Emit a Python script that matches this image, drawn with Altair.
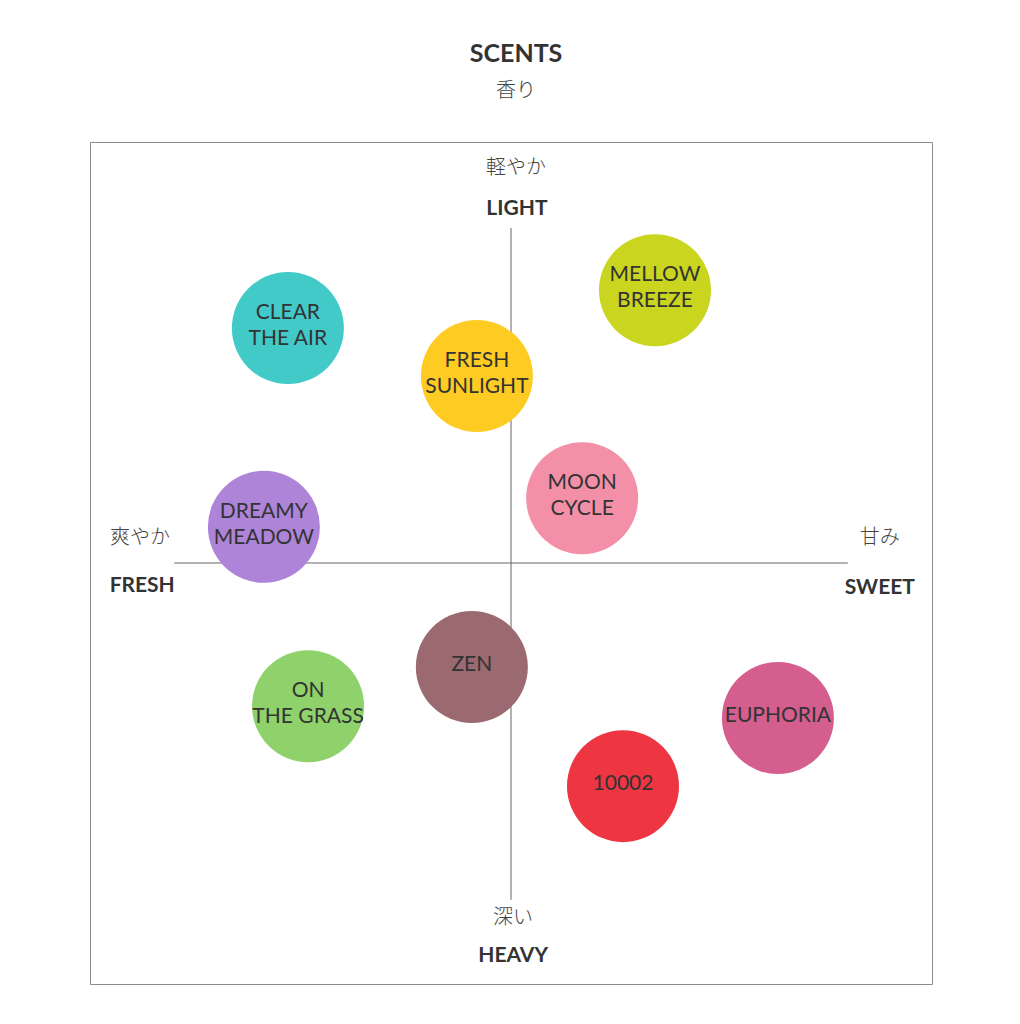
import altair as alt
import pandas as pd

# Bubble data (x: FRESH(-) -> SWEET(+), y: HEAVY(-) -> LIGHT(+))
names = ["CLEAR\nTHE AIR", "MELLOW\nBREEZE", "FRESH\nSUNLIGHT", "MOON\nCYCLE",
         "DREAMY\nMEADOW", "ZEN", "ON\nTHE GRASS", "EUPHORIA", "10002"]
xs = [-5.30, 3.42, -0.81, 1.69, -5.87, -0.93, -4.82, 6.34, 2.66]
ys = [5.58, 6.48, 4.44, 1.54, 0.86, -2.47, -3.40, -3.68, -5.30]
colors = ["#41CAC8", "#C9D51E", "#FDCB22", "#F48FA8", "#AE84D9",
          "#9A6A70", "#8FD16B", "#D45E8E", "#EE3542"]

# Axis cross lines
axis_x = [-8.0, 0.0]
axis_x2 = [8.0, 0.0]
axis_y = [0.0, 7.96]
axis_y2 = [0.0, -8.0]

# Axis labels
en_labels = ["LIGHT", "HEAVY", "FRESH", "SWEET"]
en_x = [0.14, 0.05, -8.76, 8.76]
en_y = [8.41, -9.33, -0.55, -0.59]
jp_labels = ["軽やか", "深い", "爽やか", "甘み"]
jp_x = [0.12, 0.05, -8.81, 8.76]
jp_y = [9.38, -8.43, 0.59, 0.59]

# Title
title_text = ["SCENTS"]
subtitle_text = ["香り"]
title_y = [12.09]
subtitle_y = [11.22]

dom = [-10, 10]
xsc = alt.Scale(domain=dom, nice=False, zero=False)
ysc = alt.Scale(domain=dom, nice=False, zero=False)

bubbles = pd.DataFrame({"name": names, "x": xs, "y": ys})
bubbles["multi"] = bubbles["name"].str.contains("\n")
lines = pd.DataFrame({"x": axis_x, "x2": axis_x2, "y": axis_y, "y2": axis_y2})
en = pd.DataFrame({"t": en_labels, "x": en_x, "y": en_y})
jp = pd.DataFrame({"t": jp_labels, "x": jp_x, "y": jp_y})
ttl = pd.DataFrame({"t": title_text, "x": [0.12], "y": title_y})
sub = pd.DataFrame({"t": subtitle_text, "x": [0.12], "y": subtitle_y})
edge = pd.DataFrame({"x": [-12.07], "y": [13.4], "y2": [-11.2]})


def X(f="x"):
    return alt.X(f, type="quantitative", scale=xsc, axis=None)


def Y(f="y"):
    return alt.Y(f, type="quantitative", scale=ysc, axis=None)


rules = alt.Chart(lines).mark_rule(color="#666", strokeWidth=1).encode(
    x=X(), x2="x2", y=Y(), y2="y2")

edge_rule = alt.Chart(edge).mark_rule(color="#e6e6e6", strokeWidth=1, clip=False).encode(
    x=X(), y=Y(), y2="y2")

circles = alt.Chart(bubbles).mark_circle(size=12544, opacity=1).encode(
    x=X(), y=Y(),
    color=alt.Color("name:N", scale=alt.Scale(domain=names, range=colors), legend=None))

label_style = dict(font="Lato", fontSize=21, color="#333", lineBreak="\n",
                   lineHeight=26, align="center", baseline="middle")

labels_multi = alt.Chart(bubbles).transform_filter("datum.multi").mark_text(
    dy=-15, **label_style).encode(x=X(), y=Y(), text="name:N")
labels_single = alt.Chart(bubbles).transform_filter("!datum.multi").mark_text(
    dy=-2, **label_style).encode(x=X(), y=Y(), text="name:N")

en_text = alt.Chart(en).mark_text(
    font="Lato", fontSize=21, fontWeight="bold", color="#333",
    align="center", baseline="middle", clip=False).encode(x=X(), y=Y(), text="t:N")

jp_text = alt.Chart(jp).mark_text(
    font="Noto Sans CJK JP", fontSize=20, fontWeight=300, color="#444",
    align="center", baseline="middle", clip=False).encode(x=X(), y=Y(), text="t:N")

title = alt.Chart(ttl).mark_text(
    font="Lato", fontSize=25, fontWeight="bold", color="#333",
    align="center", baseline="middle", clip=False).encode(x=X(), y=Y(), text="t:N")

subtitle = alt.Chart(sub).mark_text(
    font="Noto Sans CJK JP", fontSize=20, fontWeight=300, color="#444",
    align="center", baseline="middle", clip=False).encode(x=X(), y=Y(), text="t:N")

chart = alt.layer(edge_rule, rules, circles, labels_multi, labels_single,
                  en_text, jp_text, title, subtitle).properties(
    width=842, height=842,
    padding={"left": 82, "top": 134, "right": 80, "bottom": 32},
    autosize=alt.AutoSizeParams(type="none"),
    background="white",
).configure_view(stroke="#8c8c8c", strokeWidth=1)

chart.save("out.html", embed_options={"renderer": "svg", "actions": False})
